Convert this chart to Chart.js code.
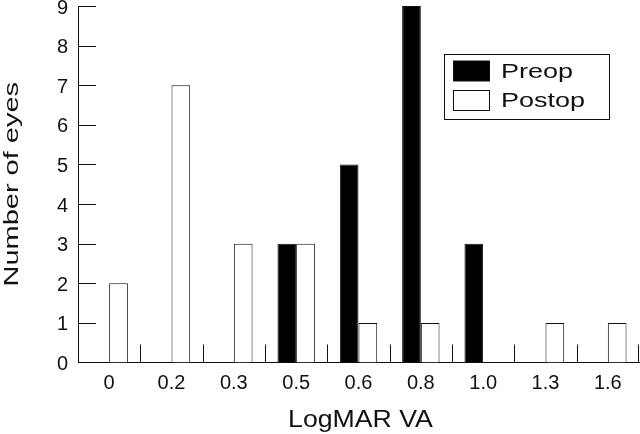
<!DOCTYPE html>
<html><head><meta charset="utf-8">
<script src="https://cdn.jsdelivr.net/npm/chart.js@4.4.1/dist/chart.umd.min.js"></script>
<style>html,body{margin:0;padding:0;background:#fff;}#wrap{width:640px;height:434px;position:relative;}</style>
</head><body><div id="wrap"><canvas id="c" width="640" height="434"></canvas></div>
<script>
const categories = ['0', '0.2', '0.3', '0.5', '0.6', '0.8', '1.0', '1.3', '1.6'];
const preop = [0, 0, 0, 3, 5, 9, 3, 0, 0];
const postop = [2, 7, 3, 3, 1, 1, 0, 1, 1];
const yTicks = [0, 1, 2, 3, 4, 5, 6, 7, 8, 9];
const seriesNames = ['Preop', 'Postop'];
const xTitle = 'LogMAR VA';
const yTitle = 'Number of eyes';

const INK = '#111';
const FONT = '"Liberation Sans", Arial, Helvetica, sans-serif';

function stretchedText(ctx, text, x, y, sx, size, align, rot) {
  ctx.save();
  ctx.translate(x, y);
  if (rot) ctx.rotate(rot);
  ctx.scale(sx, 1);
  ctx.font = size + 'px ' + FONT;
  ctx.textAlign = align;
  ctx.textBaseline = 'alphabetic';
  ctx.fillStyle = INK;
  ctx.fillText(text, 0, 0);
  ctx.restore();
}

const decor = {
  id: 'decor',
  afterDatasetsDraw(chart) {
    const { ctx, chartArea: a, scales: { x, y } } = chart;
    ctx.save();
    ctx.strokeStyle = INK;
    ctx.lineWidth = 1;
    ctx.beginPath();
    yTicks.forEach(v => {
      if (v === 0) return;
      const py = Math.round(y.getPixelForValue(v)) + 0.5;
      ctx.moveTo(a.left, py);
      ctx.lineTo(a.left + 18, py);
    });
    const n = categories.length;
    for (let i = 1; i <= n; i++) {
      let px = i < n ? (x.getPixelForValue(i - 1) + x.getPixelForValue(i)) / 2 : a.right - 1;
      px = Math.round(px) + 0.5;
      ctx.moveTo(px, a.bottom);
      ctx.lineTo(px, a.bottom - 18);
    }
    ctx.stroke();

    // legend
    const ds = chart.data.datasets;
    ctx.strokeRect(444.5, 54.5, 165, 65);
    const rows = [61, 90.5];
    const base = [77.5, 106.5];
    ds.forEach((d, i) => {
      ctx.fillStyle = d.backgroundColor;
      ctx.fillRect(453.5, rows[i], 36, 20);
      ctx.strokeStyle = d.borderColor;
      ctx.strokeRect(453.5, rows[i], 36, 20);
      stretchedText(ctx, d.label, 501, base[i], 1.35, 20, 'left');
    });

    // axis titles
    stretchedText(ctx, xTitle, (a.left + a.right) / 2 + 2, 426.5, 1.16, 23, 'center');
    stretchedText(ctx, yTitle, 17.5, (a.top + a.bottom) / 2, 1.38, 21, 'center', -Math.PI / 2);
    ctx.restore();
  }
};

new Chart(document.getElementById('c'), {
  type: 'bar',
  data: {
    labels: categories,
    datasets: [
      { label: seriesNames[0], data: preop, backgroundColor: '#000', borderColor: INK, borderWidth: 1 },
      { label: seriesNames[1], data: postop, backgroundColor: '#fff', borderColor: INK, borderWidth: 1 }
    ]
  },
  options: {
    responsive: false,
    animation: false,
    devicePixelRatio: 1,
    layout: { padding: { top: 6, right: 1, left: 0, bottom: 0 } },
    datasets: { bar: { categoryPercentage: 0.6, barPercentage: 1.0 } },
    plugins: { legend: { display: false }, tooltip: { enabled: false } },
    scales: {
      x: {
        grid: { display: false, drawTicks: false },
        border: { display: true, color: INK, width: 1 },
        ticks: { color: INK, font: { family: FONT, size: 20 }, padding: 9, maxRotation: 0, autoSkip: false },
        afterFit(s) { s.height = 71.5; s.paddingLeft = 0; s.paddingRight = 0; }
      },
      y: {
        min: 0, max: 9,
        grid: { display: false, drawTicks: false },
        border: { display: true, color: INK, width: 1 },
        ticks: { stepSize: 1, color: INK, font: { family: FONT, size: 20 }, padding: 10, labelOffset: 2 },
        afterFit(s) { s.width = 78; s.paddingTop = 0; s.paddingBottom = 0; }
      }
    }
  },
  plugins: [decor]
});
</script></body></html>
